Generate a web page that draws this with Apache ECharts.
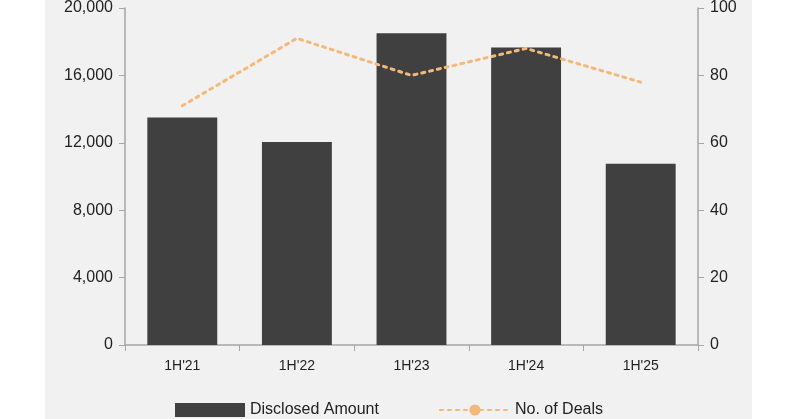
<!DOCTYPE html>
<html>
<head>
<meta charset="utf-8">
<script src="https://cdn.jsdelivr.net/npm/echarts@6/dist/echarts.min.js"></script>
</head>
<body style="margin:0;background:#fff">
<div id="main" style="width:800px;height:419px;"></div>
<script>
var categories = ["1H'21", "1H'22", "1H'23", "1H'24", "1H'25"];
var amounts = [13500, 12050, 18500, 17650, 10750];
var deals = [71, 91, 80, 88, 78];

var chart = echarts.init(document.getElementById('main'));
var axisStyle = { show: true, lineStyle: { color: '#a6a6a6', width: 1.5 } };
chart.setOption({
  animation: false,
  textStyle: { fontFamily: 'Liberation Sans, Arial, sans-serif' },
  graphic: [{ type: 'rect', z: -10, shape: { x: 45, y: 0, width: 707, height: 419 }, style: { fill: '#f1f1f1' } }],
  grid: { left: 125, right: 102, top: 6, bottom: 74 },
  legend: {
    bottom: -4, left: 170, itemGap: 60, itemWidth: 70, itemHeight: 14,
    textStyle: { fontSize: 16, color: '#222' },
    data: [{ name: 'Disclosed Amount', icon: 'rect' }, { name: 'No. of Deals' }]
  },
  xAxis: {
    type: 'category', data: categories,
    axisLine: axisStyle, axisTick: { show: true, length: 6, lineStyle: { color: '#a6a6a6' } },
    axisLabel: { fontSize: 14, color: '#222', margin: 14 }
  },
  yAxis: [{
    type: 'value', min: 0, max: 20000, interval: 4000,
    axisLine: axisStyle, axisTick: { show: true, length: 6, lineStyle: { color: '#a6a6a6' } }, splitLine: { show: false },
    axisLabel: { fontSize: 16, color: '#222', margin: 12, formatter: function (v) { return v.toLocaleString('en-US'); } }
  }, {
    type: 'value', min: 0, max: 100, interval: 20,
    axisLine: axisStyle, axisTick: { show: true, length: 6, lineStyle: { color: '#a6a6a6' } }, splitLine: { show: false },
    axisLabel: { fontSize: 16, color: '#222', margin: 12 }
  }],
  series: [{
    name: 'Disclosed Amount', type: 'bar', data: amounts, barWidth: '61%',
    itemStyle: { color: '#404040' }
  }, {
    name: 'No. of Deals', type: 'line', yAxisIndex: 1, data: deals, symbol: 'none',
    lineStyle: { color: '#f4b97a', width: 3, type: [3, 5], cap: 'round' },
    itemStyle: { color: '#f4b97a' }
  }]
});
</script>
</body>
</html>
